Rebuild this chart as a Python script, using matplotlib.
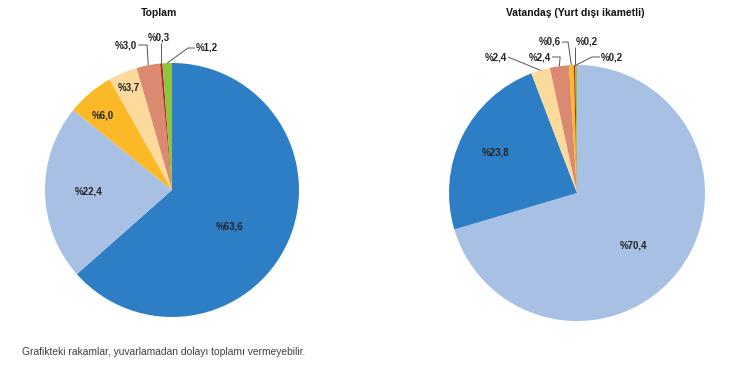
import numpy as np
import matplotlib.pyplot as plt

plt.rcParams['font.family'] = ['Liberation Sans', 'DejaVu Sans']

# Data: shares (%) read clockwise from 12 o'clock
left_title = 'Toplam'
left_vals = [63.6, 22.4, 6.0, 3.7, 3.0, 0.3, 1.2]
left_colors = ['#2E7EC6', '#A7C0E4', '#FBB827', '#FCDA9C', '#D98A70', '#B22A1E', '#8CC63E']

right_title = 'Vatandaş (Yurt dışı ikametli)'
right_vals = [70.4, 23.8, 2.4, 2.4, 0.6, 0.2, 0.2]
right_colors = ['#A7C0E4', '#2E7EC6', '#FCDA9C', '#D98A70', '#FBB827', '#B22A1E', '#8CC63E']

note = 'Grafikteki rakamlar, yuvarlamadan dolayı toplamı vermeyebilir.'

W, H = 750, 375

# label layout (pixels, y downwards):
# ('in', radial factor, angle shift) or ('out', text x, text y, side, elbow dx)
left_layout = [('in', 0.54, -8), ('in', 0.66, 0), ('in', 0.80, 2.6), ('in', 0.875, 0),
               ('out', 126, 45, 'right', 9), ('out', 159, 38, 'bottom', 0),
               ('out', 207, 48, 'left', -7)]
right_layout = [('in', 0.60, -6), ('in', 0.71, 0),
                ('out', 496, 57, 'right', 0), ('out', 540, 57, 'right', 8),
                ('out', 550, 42, 'right', 6), ('out', 587, 42, 'bottom', 0),
                ('out', 612, 57, 'left', -8)]


def fmt(v):
    return '%' + ('%.1f' % v).replace('.', ',')


def draw_pie(fig, ax, vals, colors, layout, cx, cy, r, title, tx_title):
    Y = H - cy
    wedges, _ = ax.pie(vals, colors=colors, startangle=90, counterclock=False,
                       center=(cx, Y), radius=r,
                       wedgeprops=dict(linewidth=0))
    ax.set_xlim(0, W)
    ax.set_ylim(0, H)
    rend = fig.canvas.get_renderer()
    inv = ax.transData.inverted()
    for w, v, lay in zip(wedges, vals, layout):
        mid = (w.theta1 + w.theta2) / 2
        if lay[0] == 'in':
            f, da = lay[1], np.deg2rad(mid + lay[2])
            ax.text(cx + f * r * np.cos(da), Y + f * r * np.sin(da), fmt(v),
                    ha='center', va='center', fontsize=7, fontweight='bold',
                    color='#222222')
            continue
        _, tx, ty, side, edx = lay
        t = ax.text(tx, H - ty, fmt(v), ha='center', va='center', fontsize=7,
                    fontweight='bold', color='#222222')
        bb = t.get_window_extent(rend).transformed(inv)
        m = np.deg2rad(mid)
        px, py = cx + r * np.cos(m), Y + r * np.sin(m)
        if side == 'right':
            sx, sy = bb.x1 + 1, H - ty
        elif side == 'left':
            sx, sy = bb.x0 - 1, H - ty
        else:
            sx, sy = px, bb.y0
        ax.plot([sx, sx + edx, px], [sy, sy, py], color='#555555', lw=0.7,
                solid_capstyle='butt')
    ax.text(tx_title, H - 13, title, ha='center', va='center', fontsize=7.5,
            fontweight='bold', color='#111111')


fig = plt.figure(figsize=(7.5, 3.75), dpi=100)
ax = fig.add_axes([0, 0, 1, 1])
ax.set_aspect('equal')

draw_pie(fig, ax, left_vals, left_colors, left_layout, 172, 190, 127, left_title, 159)
draw_pie(fig, ax, right_vals, right_colors, right_layout, 577, 193, 128, right_title, 575)

ax.text(22, H - 352, note, ha='left', va='center', fontsize=7.4, color='#404040')

ax.set_xlim(0, W)
ax.set_ylim(0, H)
ax.axis('off')

plt.savefig('out.png', dpi=100)
plt.close()
